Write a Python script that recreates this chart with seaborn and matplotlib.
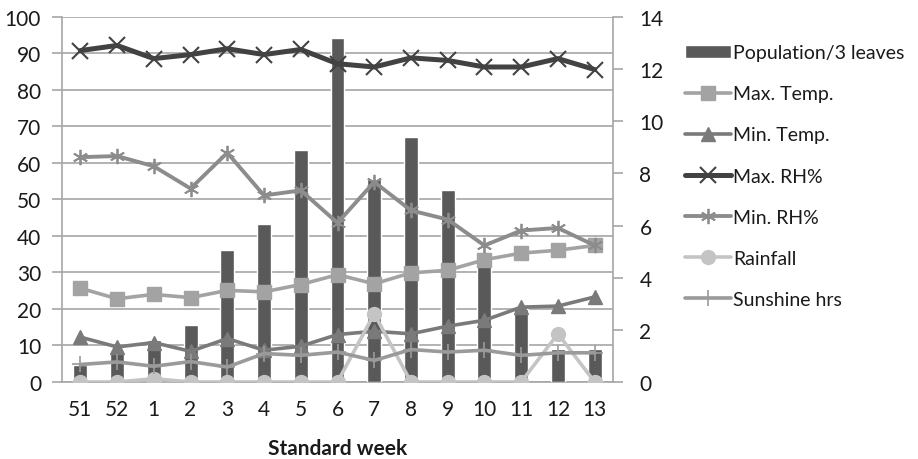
import matplotlib
matplotlib.use("Agg")
import matplotlib.pyplot as plt
import seaborn as sns
import pandas as pd
import numpy as np

sns.set_theme(style="white")
plt.rcParams["font.family"] = ["Lato", "DejaVu Sans"]

weeks = ["51", "52", "1", "2", "3", "4", "5", "6", "7", "8", "9", "10", "11", "12", "13"]
population = [0.64, 1.10, 1.60, 2.17, 5.05, 6.07, 8.88, 13.2, 7.80, 9.40, 7.38, 4.76, 2.80, 1.28, 1.28]
max_temp = [25.7, 22.8, 24.0, 23.1, 25.1, 24.7, 26.7, 29.4, 26.9, 29.9, 30.6, 33.5, 35.3, 36.1, 37.4]
min_temp = [12.3, 9.6, 10.8, 8.4, 11.9, 8.7, 9.8, 13.0, 13.9, 13.2, 15.3, 16.9, 20.5, 20.8, 23.3]
max_rh = [90.8, 92.2, 88.6, 89.7, 91.3, 89.7, 91.1, 87.2, 86.3, 88.8, 88.1, 86.3, 86.3, 88.6, 85.6]
min_rh = [61.6, 61.9, 59.1, 53.0, 62.8, 51.1, 52.5, 43.6, 54.8, 47.0, 44.5, 37.4, 41.5, 42.2, 37.4]
rainfall = [0.0, 0.0, 0.9, 0.0, 0.0, 0.0, 0.0, 0.0, 18.7, 0.0, 0.0, 0.0, 0.0, 13.2, 0.0]
sunshine = [4.8, 5.5, 4.3, 5.6, 4.1, 7.8, 7.3, 8.2, 5.9, 8.9, 8.2, 8.7, 7.3, 8.0, 8.0]

pos = np.arange(len(weeks))
df = pd.DataFrame({"pos": pos, "week": weeks, "population": population})

FS = 15
LFS = 14
TXT = "#1a1a1a"
grid_col = "#a6a6a6"

fig = plt.figure(figsize=(9.18, 4.60), dpi=100)
ax = fig.add_axes([0.0675, 0.1674, 0.6003, 0.7935])

# Left axis: scale and horizontal grid
ax.set_xlim(-0.5, len(weeks) - 0.5)
ax.set_ylim(0, 100)
ax.set_yticks(range(0, 101, 10))
ax.yaxis.grid(True, color=grid_col, linewidth=1.2)
ax.xaxis.grid(False)
ax.set_axisbelow(True)
for s in ["top", "right"]:
    ax.spines[s].set_visible(False)
for s in ["left", "bottom"]:
    ax.spines[s].set_color(grid_col)
    ax.spines[s].set_linewidth(1.2)
ax.tick_params(axis="y", length=7, color=grid_col, width=1.2, labelsize=FS,
               labelcolor=TXT, pad=8)
ax.tick_params(axis="x", length=0, labelsize=FS, labelcolor=TXT, pad=12)
ax.set_xticks(pos)
ax.set_xticklabels(weeks)
ax.set_xlabel("Standard week", fontsize=FS, fontweight="bold", labelpad=14,
              color=TXT)

# Right axis: population bars
ax2 = ax.twinx()
sns.barplot(data=df, x="pos", y="population", ax=ax2, color="#595959",
            width=0.38, saturation=1, label="Population/3 leaves")
if ax2.get_legend() is not None:
    ax2.get_legend().remove()
ax2.set_xlim(-0.5, len(weeks) - 0.5)
ax2.set_ylim(0, 14)
ax2.set_yticks(range(0, 15, 2))
ax2.set_ylabel("")
ax2.set_xlabel("")
for s in ["top", "left", "bottom"]:
    ax2.spines[s].set_visible(False)
ax2.spines["right"].set_color(grid_col)
ax2.spines["right"].set_linewidth(1.2)
ax2.tick_params(axis="y", length=7, color=grid_col, width=1.2, labelsize=FS,
                labelcolor=TXT, pad=12, right=True)
ax2.patch.set_visible(False)
ax2.set_zorder(1)

# Weather lines on a layer above the bars, sharing the left scale
ax3 = ax.twinx()
ax3.set_ylim(0, 100)
ax3.set_xlim(-0.5, len(weeks) - 0.5)
ax3.set_axis_off()
ax3.set_zorder(2)

series = [
    ("Max. Temp.", max_temp, "#a3a3a3", "s", 10, 2.6, 1.0),
    ("Min. Temp.", min_temp, "#7a7a7a", "^", 10, 2.6, 1.0),
    ("Max. RH%", max_rh, "#424242", "x", 11, 3.6, 1.5),
    ("Min. RH%", min_rh, "#8c8c8c", (6, 2, 0), 11, 2.8, 1.3),
    ("Rainfall", rainfall, "#c4c4c4", "o", 10, 2.6, 1.0),
    ("Sunshine hrs", sunshine, "#9a9a9a", "+", 12, 2.6, 1.2),
]
for name, vals, col, mk, ms, lw, mew in series:
    sdf = pd.DataFrame({"pos": pos, "v": vals})
    sns.lineplot(data=sdf, x="pos", y="v", ax=ax3, color=col, marker=mk,
                 markersize=ms, linewidth=lw, markeredgecolor=col,
                 markerfacecolor=col, markeredgewidth=mew, label=name,
                 legend=False)
ax3.set_xlabel("")
ax3.set_ylabel("")

h2, l2 = ax2.get_legend_handles_labels()
h3, l3 = ax3.get_legend_handles_labels()
fig.legend(h2 + h3, l2 + l3, loc="upper left", bbox_to_anchor=(0.733, 0.927),
           frameon=False, fontsize=LFS, labelspacing=1.24, handlelength=2.4,
           handletextpad=0.1, labelcolor=TXT, borderaxespad=0.2)

fig.savefig("out.png", dpi=100)
